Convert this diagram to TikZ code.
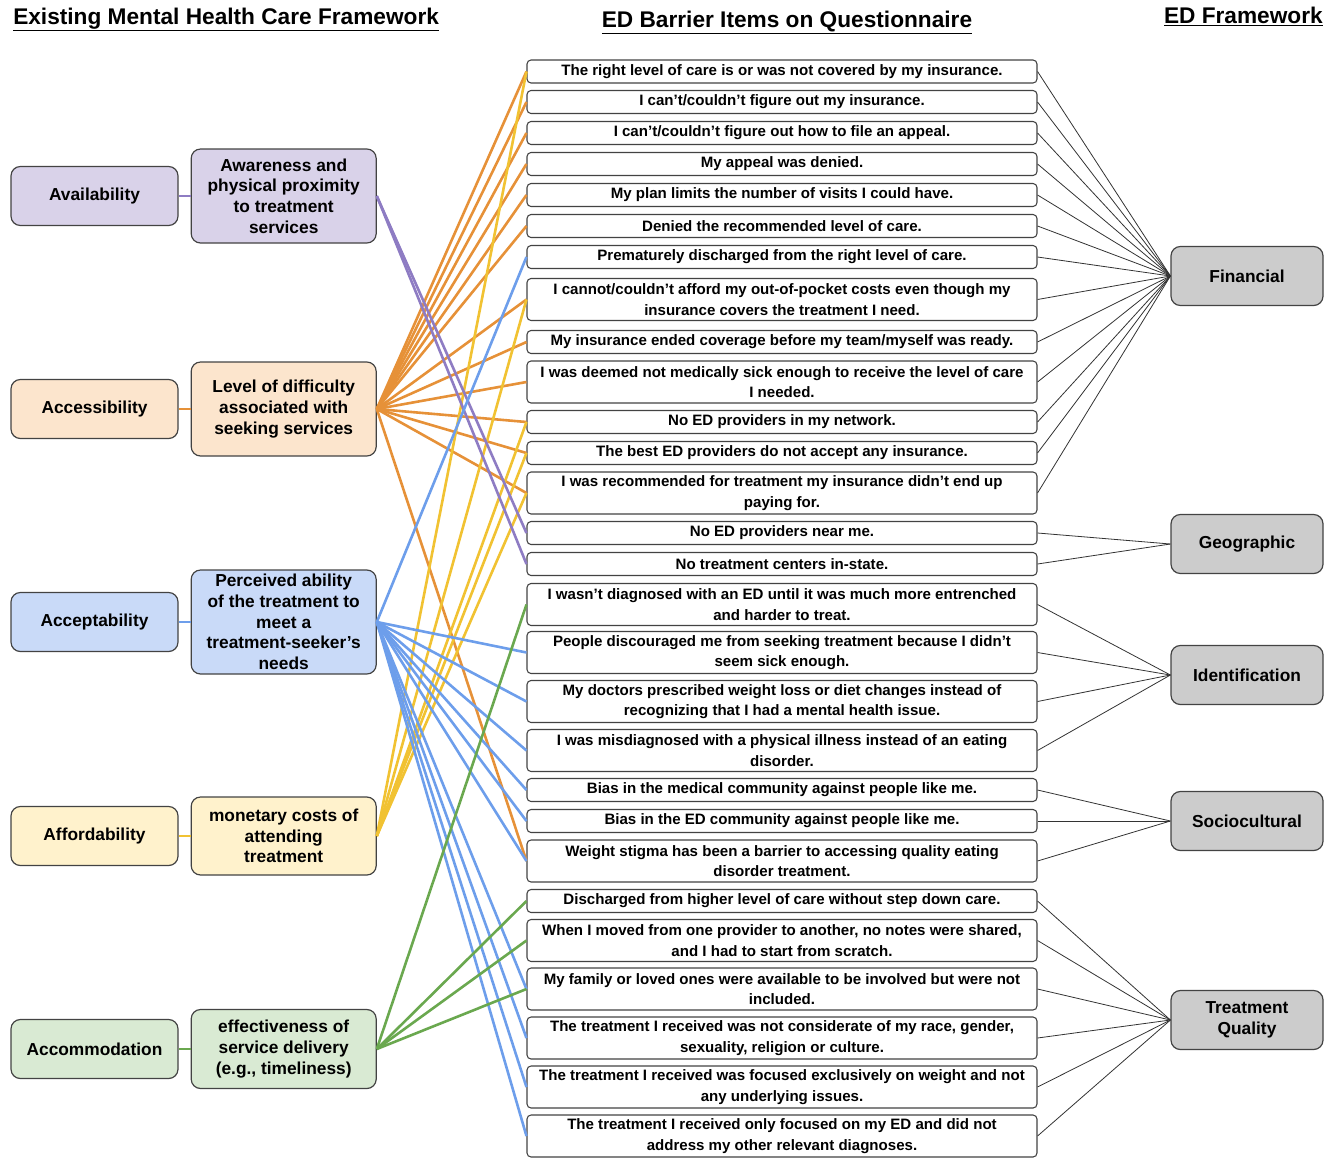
\documentclass[tikz,border=0pt]{standalone}
\usepackage{fontspec}
\setmainfont{Liberation Sans}
\usetikzlibrary{positioning}

\definecolor{availfill}{HTML}{D9D2E9}
\definecolor{availline}{HTML}{8E7CC3}
\definecolor{accessfill}{HTML}{FCE5CD}
\definecolor{accessline}{HTML}{E69138}
\definecolor{acceptfill}{HTML}{C9DAF8}
\definecolor{acceptline}{HTML}{6D9EEB}
\definecolor{affordfill}{HTML}{FFF2CC}
\definecolor{affordline}{HTML}{F1C232}
\definecolor{accomfill}{HTML}{D9EAD3}
\definecolor{accomline}{HTML}{6AA84F}
\definecolor{edfill}{HTML}{CCCCCC}
\definecolor{boxedge}{HTML}{434343}

\tikzset{
  head/.style={inner sep=0pt, font=\fontsize{17}{20}\selectfont\bfseries},
  catbox/.style={draw=boxedge, line width=0.9pt, rounded corners=7pt, minimum width=125.25pt,
    minimum height=44.25pt, inner sep=2pt, align=center, font=\fontsize{13}{15.5}\selectfont\bfseries},
  defbox/.style={catbox, minimum width=138.75pt},
  edbox/.style={catbox, fill=edfill, minimum width=114pt},
  item/.style={draw=boxedge, line width=0.8pt, rounded corners=3pt, fill=white, minimum width=382.5pt,
    minimum height=17.25pt, inner sep=1pt, align=center, font=\fontsize{11.3}{15.5}\selectfont\bfseries},
  tallitem/.style={item, minimum height=31.5pt},
  link/.style={line width=1.95pt},
  edlink/.style={draw=black!80, line width=0.6pt}
}

\begin{document}
\begin{tikzpicture}[x=0.75pt, y=-0.75pt]
  \useasboundingbox (0,0) rectangle (1341,1157);

  % headers
  \node[head, anchor=base west] (hleft) at (13,24) {\underline{Existing Mental Health Care Framework}};
  \node[head, anchor=base] (hmid) at (787,27) {\underline{ED Barrier Items on Questionnaire}};
  \node[head, anchor=base east] (hright) at (1323,23) {\underline{ED Framework}};

  % existing framework
  \node[catbox, fill=availfill] (avail) at (94.5,196) {Availability};
  \node[defbox, fill=availfill, minimum height=70.5pt, right=9pt of avail] (aware) {Awareness and\\physical proximity\\to treatment\\services};
  \node[catbox, fill=accessfill] (access) at (94.5,409) {Accessibility};
  \node[defbox, fill=accessfill, minimum height=70.5pt, right=9pt of access] (level) {Level of difficulty\\associated with\\seeking services};
  \node[catbox, fill=acceptfill] (accept) at (94.5,622) {Acceptability};
  \node[defbox, fill=acceptfill, minimum height=78pt, right=9pt of accept] (perceived) {Perceived ability\\of the treatment to\\meet a\\treatment-seeker’s\\needs};
  \node[catbox, fill=affordfill] (afford) at (94.5,836) {Affordability};
  \node[defbox, fill=affordfill, minimum height=58.5pt, right=9pt of afford] (monetary) {monetary costs of\\attending\\treatment};
  \node[catbox, fill=accomfill] (accom) at (94.5,1049) {Accommodation};
  \node[defbox, fill=accomfill, minimum height=59.25pt, right=9pt of accom] (effect) {effectiveness of\\service delivery\\(e.g., timeliness)};

  % questionnaire items
  \node[item] (i1) at (782,71.5) {The right level of care is or was not covered by my insurance.};
  \node[item] (i2) at (782,102) {I can’t/couldn’t figure out my insurance.};
  \node[item] (i3) at (782,133) {I can’t/couldn’t figure out how to file an appeal.};
  \node[item] (i4) at (782,164) {My appeal was denied.};
  \node[item] (i5) at (782,195) {My plan limits the number of visits I could have.};
  \node[item] (i6) at (782,226) {Denied the recommended level of care.};
  \node[item] (i7) at (782,257) {Prematurely discharged from the right level of care.};
  \node[tallitem] (i8) at (782,299.5) {I cannot/couldn’t afford my out-of-pocket costs even though my\\insurance covers the treatment I need.};
  \node[item] (i9) at (782,342) {My insurance ended coverage before my team/myself was ready.};
  \node[tallitem] (i10) at (782,382) {I was deemed not medically sick enough to receive the level of care\\I needed.};
  \node[item] (i11) at (782,422) {No ED providers in my network.};
  \node[item] (i12) at (782,453) {The best ED providers do not accept any insurance.};
  \node[tallitem] (i13) at (782,493) {I was recommended for treatment my insurance didn’t end up\\paying for.};
  \node[item] (i14) at (782,533) {No ED providers near me.};
  \node[item] (i15) at (782,564) {No treatment centers in-state.};
  \node[tallitem] (i16) at (782,604.5) {I wasn’t diagnosed with an ED until it was much more entrenched\\and harder to treat.};
  \node[tallitem] (i17) at (782,652.5) {People discouraged me from seeking treatment because I didn’t\\seem sick enough.};
  \node[tallitem] (i18) at (782,701.5) {My doctors prescribed weight loss or diet changes instead of\\recognizing that I had a mental health issue.};
  \node[tallitem] (i19) at (782,750.5) {I was misdiagnosed with a physical illness instead of an eating\\disorder.};
  \node[item] (i20) at (782,790) {Bias in the medical community against people like me.};
  \node[item] (i21) at (782,821) {Bias in the ED community against people like me.};
  \node[tallitem] (i22) at (782,861) {Weight stigma has been a barrier to accessing quality eating\\disorder treatment.};
  \node[item] (i23) at (782,901) {Discharged from higher level of care without step down care.};
  \node[tallitem] (i24) at (782,940.5) {When I moved from one provider to another, no notes were shared,\\and I had to start from scratch.};
  \node[tallitem] (i25) at (782,989) {My family or loved ones were available to be involved but were not\\included.};
  \node[tallitem] (i26) at (782,1038) {The treatment I received was not considerate of my race, gender,\\sexuality, religion or culture.};
  \node[tallitem] (i27) at (782,1087) {The treatment I received was focused exclusively on weight and not\\any underlying issues.};
  \node[tallitem] (i28) at (782,1136) {The treatment I received only focused on my ED and did not\\address my other relevant diagnoses.};

  % ED framework
  \node[edbox] (fin) at (1247,276) {Financial};
  \node[edbox] (geo) at (1247,544) {Geographic};
  \node[edbox] (ident) at (1247,675) {Identification};
  \node[edbox] (socio) at (1247,821) {Sociocultural};
  \node[edbox] (quality) at (1247,1020) {Treatment\\Quality};

  % category to definition
  \draw[link, availline] (avail) -- (aware);
  \draw[link, accessline] (access) -- (level);
  \draw[link, acceptline] (accept) -- (perceived);
  \draw[link, affordline] (afford) -- (monetary);
  \draw[link, accomline] (accom) -- (effect);

  % definitions to items
  \foreach \k in {1,2,3,4,5,6,8,9,10,11,12,13,22}
    \draw[link, accessline] (level.east) -- (i\k.west);
  \foreach \k in {1,8,11,12,13}
    \draw[link, affordline] (monetary.east) -- (i\k.west);
  \foreach \k in {14,15}
    \draw[link, availline] (aware.east) -- (i\k.west);
  \foreach \k in {7,17,18,19,20,21,22,25,26,27,28}
    \draw[link, acceptline] (perceived.east) -- (i\k.west);
  \foreach \k in {16,23,24,25}
    \draw[link, accomline] (effect.east) -- (i\k.west);

  % items to ED framework
  \foreach \k in {1,...,13}
    \draw[edlink] (i\k.east) -- (fin.west);
  \foreach \k in {14,15}
    \draw[edlink] (i\k.east) -- (geo.west);
  \foreach \k in {16,...,19}
    \draw[edlink] (i\k.east) -- (ident.west);
  \foreach \k in {20,21,22}
    \draw[edlink] (i\k.east) -- (socio.west);
  \foreach \k in {23,...,28}
    \draw[edlink] (i\k.east) -- (quality.west);
\end{tikzpicture}
\end{document}
